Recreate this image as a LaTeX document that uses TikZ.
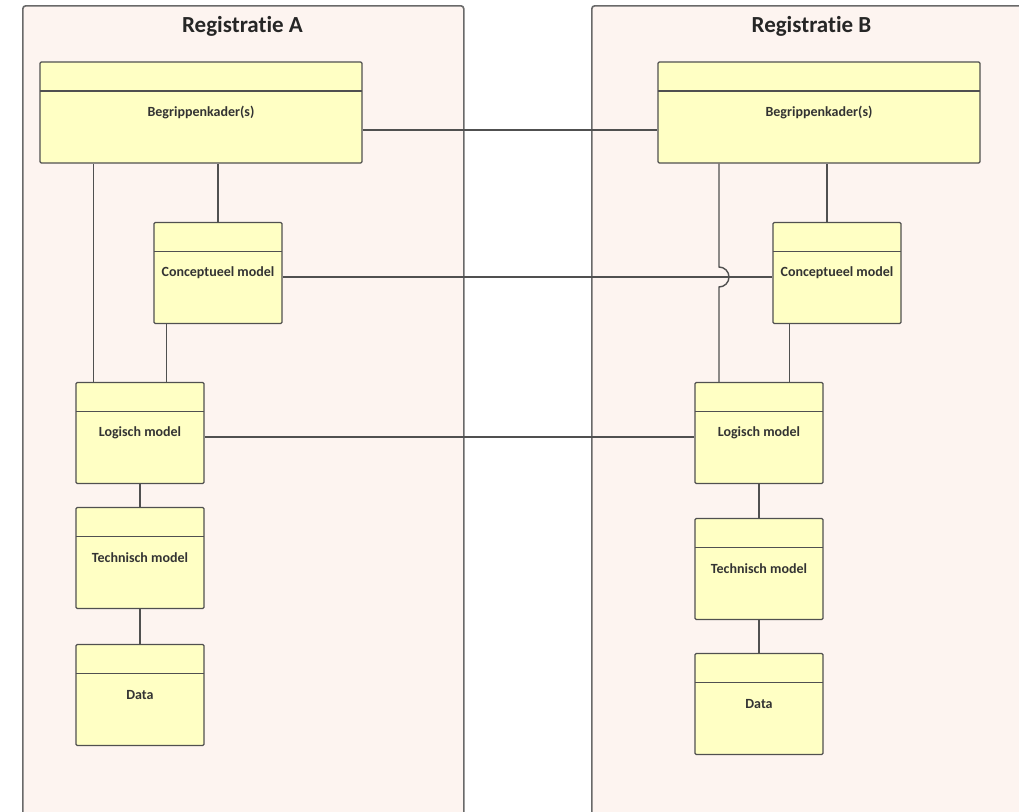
\documentclass[tikz,border=0pt]{standalone}
\usepackage{fontspec}
\setmainfont{Carlito}[Ligatures=NoCommon]
\usetikzlibrary{calc}
\definecolor{regfill}{RGB}{253,244,240}
\definecolor{regline}{RGB}{105,105,105}
\definecolor{boxfill}{RGB}{255,255,196}
\definecolor{boxline}{RGB}{80,80,80}
\tikzset{
  reg/.style={draw=regline, line width=1.6pt, fill=regfill, rounded corners=3pt,
    minimum width=441pt, minimum height=825pt, inner sep=0pt},
  regtitle/.style={font=\bfseries\fontsize{23}{26}\selectfont, text=black!85, inner sep=0pt},
  umlbox/.style={draw=boxline, line width=1.3pt, fill=boxfill, rounded corners=1.2pt,
    minimum height=101pt, inner sep=0pt, font=\bfseries\fontsize{14}{16}\selectfont, text=black!80,
    path picture={\draw[boxline, line width=1.2pt]
      ([yshift=-29pt]path picture bounding box.north west) --
      ([yshift=-29pt]path picture bounding box.north east);}},
  bigbox/.style={umlbox, minimum width=322pt},
  smallbox/.style={umlbox, minimum width=128pt},
  conn/.style={draw=boxline, line width=1.4pt}
}
\begin{document}
\begin{tikzpicture}[x=1pt, y=-1pt]
\useasboundingbox (0,0) rectangle (1019,811);
\clip (0,0) rectangle (1019,811);
% containers
\node[reg, anchor=north west] (regA) at (22,5) {};
\node[reg, anchor=north west] (regB) at (591,5) {};
\node[regtitle] (titleA) at (242.5,26) {Registratie A};
\node[regtitle] (titleB) at (811.5,26) {Registratie B};
\coordinate (hop) at (719,277);
% connectors (drawn before boxes so boxes cover their ends)
\path (201,112.5) node[bigbox] (begA) {Begrippenkader(s)}
      (819,112.5) node[bigbox] (begB) {Begrippenkader(s)};
\draw[conn] ([yshift=-17.5pt]begA.east) -- ([yshift=-17.5pt]begA.east -| begB.west);
\node[smallbox] (concA) at (218,273) {Conceptueel model};
\node[smallbox] (concB) at (837,273) {Conceptueel model};
\node[smallbox] (logA) at (140,433) {Logisch model};
\node[smallbox] (logB) at (759,433) {Logisch model};
\node[smallbox] (techA) at (140,558) {Technisch model};
\node[smallbox] (techB) at (759,569) {Technisch model};
\node[smallbox] (dataA) at (140,695) {Data};
\node[smallbox] (dataB) at (759,704) {Data};
\draw[conn] ([yshift=-4pt]concA.east) -- ([yshift=-4pt]concA.east -| concB.west);
\draw[conn] ([yshift=-4pt]logA.east) -- ([yshift=-4pt]logA.east -| logB.west);
\draw[conn] (concA.north) -- (concA.north |- begA.south);
\draw[conn] ([xshift=18pt]logA.north west) -- ([xshift=18pt]logA.north west |- begA.south);
\draw[conn] ([xshift=13pt]concA.south west) -- ([xshift=13pt]concA.south west |- logA.north);
\draw[conn] (logA.south) -- (techA.north);
\draw[conn] (techA.south) -- (dataA.north);
\draw[conn] ([xshift=-10pt]concB.north) -- ([xshift=-10pt]concB.north |- begB.south);
\draw[conn] ([xshift=17pt]concB.south west) -- ([xshift=17pt]concB.south west |- logB.north);
\draw[conn] (hop |- begB.south) -- ([yshift=10pt]hop) arc[start angle=-90, end angle=90, radius=10] -- (hop |- logB.north);
\draw[conn] (logB.south) -- (techB.north);
\draw[conn] (techB.south) -- (dataB.north);
\end{tikzpicture}
\end{document}
